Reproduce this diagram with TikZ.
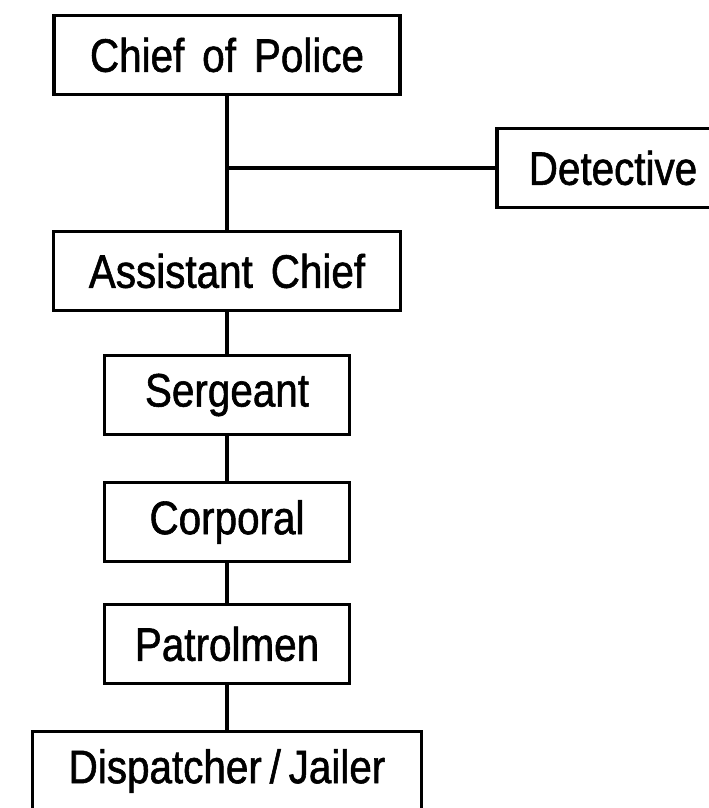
\documentclass[tikz,border=0pt]{standalone}
\usepackage{fontspec}
\setmainfont[FakeStretch=0.86,WordSpace=1.6,FakeBold=1.2]{Liberation Sans}
\usepackage{tikz}
\usetikzlibrary{positioning}

\begin{document}
\begin{tikzpicture}[x=1pt, y=-1pt,
  rank/.style={draw, line width=3.2pt, inner sep=0pt, minimum height=79pt,
    font=\fontsize{47}{50}\selectfont},
  link/.style={line width=3.4pt}]

\clip (0,0) rectangle (709,808);

\node[rank, minimum width=346pt] (chief)  at (227,55)  {Chief of Police};
\node[rank, minimum width=232pt] (det)    at (613,168) {Detective};
\node[rank, minimum width=347pt] (asst)   at (227,271) {Assistant Chief};
\node[rank, minimum width=245pt] (sgt)    at (227,395) {Sergeant};
\node[rank, minimum width=245pt] (corp)   at (227,522) {Corporal};
\node[rank, minimum width=245pt] (patrol) at (227,644) {Patrolmen};
\node[rank, minimum width=389pt] (disp)   at (227,771) {Dispatcher\,/\,Jailer};

\coordinate (fork) at (chief.south |- det.west);

\draw[link] (chief)  -- (asst);
\draw[link] (fork)   -- (det);
\draw[link] (asst)   -- (sgt);
\draw[link] (sgt)    -- (corp);
\draw[link] (corp)   -- (patrol);
\draw[link] (patrol) -- (disp);

\end{tikzpicture}
\end{document}
